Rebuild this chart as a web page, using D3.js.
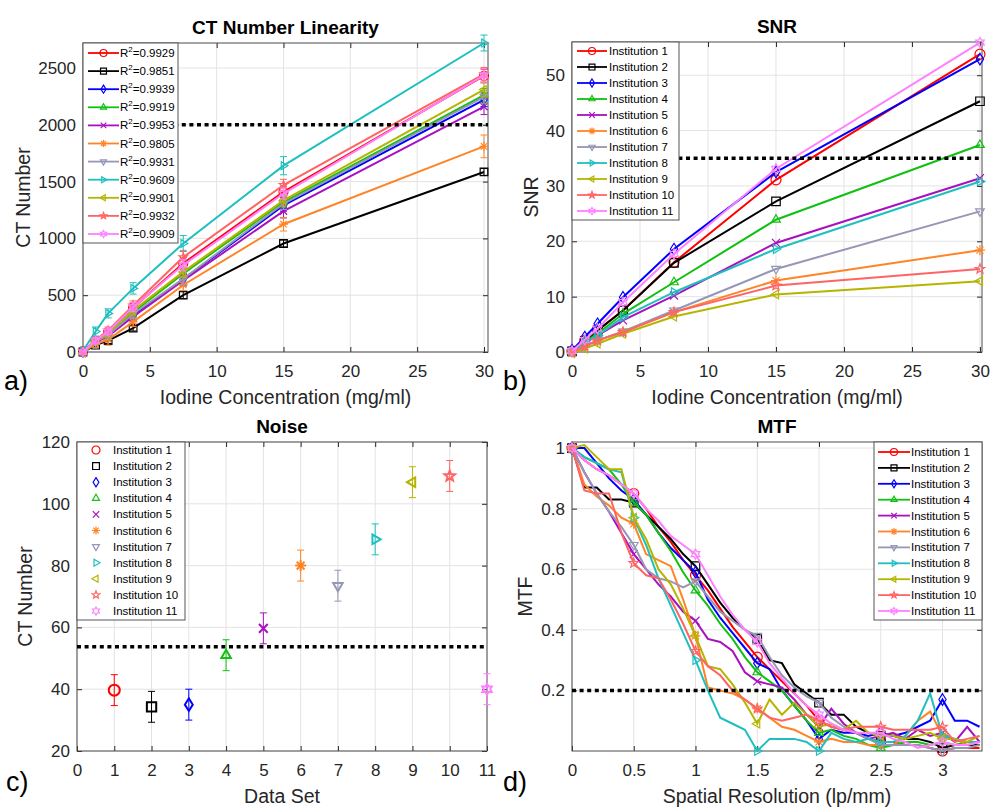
<!DOCTYPE html>
<html>
<head>
<meta charset="utf-8">
<script src="https://d3js.org/d3.v7.min.js"></script>
<style>
  body { margin: 0; background: #fff; }
  svg text { font-family: 'Liberation Sans', Arial, sans-serif; fill: #262626; }
  .tick text { font-size: 17px; }
  .title { font-size: 19px; font-weight: bold; fill: #000; }
  .label { font-size: 19.5px; }
  .leg text { font-size: 11.5px; fill: #000; }
  .letter { font-size: 27px; fill: #000; }
</style>
</head>
<body>
<script>
var institutions = ['Institution 1', 'Institution 2', 'Institution 3', 'Institution 4', 'Institution 5', 'Institution 6',
  'Institution 7', 'Institution 8', 'Institution 9', 'Institution 10', 'Institution 11'];
var colors = ['#ff0000', '#000000', '#0000ff', '#11c011', '#a810c0', '#ff8426', '#9696b6', '#1fbfbf', '#b5b500', '#ff6464', '#ff80ff'];
var symbols = ['o', 's', 'd', '^', 'x', '*', 'v', '>', '<', 'p', 'h'];
var rSquared = ['0.9929', '0.9851', '0.9939', '0.9919', '0.9953', '0.9805', '0.9931', '0.9609', '0.9901', '0.9932', '0.9909'];

// a) CT number linearity
var conc = [0, 0.94, 1.88, 3.75, 7.5, 15, 30];
var ctNumber = [
  [5, 95, 175, 390, 780, 1410, 2430],
  [0, 60, 100, 210, 500, 955, 1585],
  [0, 85, 150, 320, 640, 1290, 2220],
  [0, 90, 160, 350, 690, 1320, 2260],
  [0, 85, 140, 310, 630, 1240, 2160],
  [0, 70, 110, 265, 590, 1125, 1810],
  [0, 90, 150, 335, 645, 1305, 2245],
  [10, 180, 340, 560, 955, 1640, 2720],
  [-10, 95, 165, 365, 705, 1335, 2310],
  [5, 105, 190, 410, 835, 1470, 2445],
  [0, 100, 180, 395, 765, 1395, 2435]
];
var ctError = [
  [10, 25, 30, 40, 50, 50, 60],
  [5, 20, 25, 25, 30, 30, 30],
  [10, 20, 30, 40, 50, 50, 60],
  [10, 20, 30, 40, 50, 50, 60],
  [10, 25, 30, 40, 50, 60, 70],
  [10, 30, 50, 40, 50, 60, 100],
  [10, 20, 30, 40, 50, 50, 60],
  [15, 40, 40, 50, 70, 80, 70],
  [10, 25, 30, 40, 50, 50, 60],
  [10, 25, 30, 40, 60, 50, 60],
  [10, 25, 30, 40, 50, 50, 60]
];
var ctTarget = 2000;

// b) SNR
var snr = [
  [0.2, 2.1, 3.9, 7.5, 16.2, 31.1, 53.8],
  [0.1, 2.0, 3.9, 7.5, 16.1, 27.2, 45.3],
  [0.3, 2.7, 5.1, 9.9, 18.6, 32.5, 52.9],
  [0.1, 1.8, 3.3, 6.9, 12.6, 23.9, 37.4],
  [0.1, 1.6, 3.0, 5.7, 10.2, 19.7, 31.4],
  [0.0, 1.0, 2.1, 3.6, 7.2, 12.9, 18.4],
  [0.0, 1.0, 2.1, 3.7, 7.5, 15.0, 25.4],
  [0.1, 1.7, 3.0, 6.3, 10.8, 18.6, 30.8],
  [-0.2, 0.6, 1.5, 3.3, 6.4, 10.4, 12.8],
  [0.0, 1.0, 2.1, 3.6, 7.2, 12.0, 15.0],
  [0.2, 2.2, 4.2, 9.0, 17.7, 33.1, 55.9]
];
var snrTarget = 35;

// c) noise
var dataSet = [1, 2, 3, 4, 5, 6, 7, 8, 9, 10, 11];
var noise = [39.7, 34.3, 35.0, 51.0, 59.7, 80.0, 73.5, 88.5, 107.0, 109.0, 40.0];
var noiseError = [5, 5, 5, 5, 5, 5, 5, 5, 5, 5, 5];
var noiseTarget = 53.7;

// d) MTF
var freq = [0, 0.1, 0.2, 0.3, 0.4, 0.5, 0.6, 0.7, 0.8, 0.9, 1.0, 1.1, 1.2, 1.3, 1.4, 1.5, 1.6, 1.7, 1.8, 1.9,
  2.0, 2.1, 2.2, 2.3, 2.4, 2.5, 2.6, 2.7, 2.8, 2.9, 3.0, 3.1, 3.2, 3.3];
var mtf = [
  [1.00,0.96,0.93,0.91,0.88,0.85,0.80,0.74,0.69,0.63,0.58,0.53,0.47,0.41,0.36,0.31,0.27,0.23,0.19,0.15,0.10,0.08,0.07,0.06,0.04,0.03,0.03,0.02,0.02,0.01,0.00,0.01,0.01,0.01],
  [1.00,0.87,0.87,0.83,0.83,0.82,0.78,0.74,0.70,0.65,0.61,0.55,0.49,0.44,0.40,0.37,0.30,0.29,0.22,0.19,0.16,0.12,0.12,0.08,0.06,0.05,0.05,0.04,0.04,0.03,0.01,0.02,0.02,0.02],
  [1.00,1.00,0.95,0.90,0.86,0.83,0.78,0.72,0.67,0.63,0.59,0.50,0.44,0.39,0.34,0.29,0.27,0.20,0.15,0.10,0.04,0.07,0.06,0.06,0.05,0.06,0.05,0.06,0.08,0.10,0.17,0.10,0.10,0.08],
  [1.00,0.97,0.95,0.93,0.88,0.82,0.78,0.72,0.66,0.59,0.53,0.48,0.42,0.37,0.31,0.26,0.23,0.20,0.15,0.10,0.06,0.07,0.05,0.04,0.02,0.01,0.02,0.03,0.03,0.02,0.03,0.02,0.03,0.03],
  [1.00,0.92,0.85,0.79,0.72,0.65,0.60,0.55,0.51,0.46,0.43,0.37,0.36,0.33,0.26,0.23,0.22,0.21,0.17,0.12,0.08,0.14,0.09,0.06,0.04,0.05,0.06,0.04,0.07,0.05,0.06,0.03,0.08,0.03],
  [1.00,0.88,0.84,0.81,0.77,0.75,0.65,0.63,0.61,0.50,0.38,0.21,0.20,0.19,0.17,0.14,0.11,0.08,0.07,0.05,0.03,0.04,0.03,0.03,0.02,0.02,0.02,0.05,0.10,0.13,0.05,0.04,0.02,0.03],
  [1.00,0.92,0.85,0.79,0.74,0.68,0.60,0.57,0.56,0.54,0.56,0.51,0.46,0.43,0.40,0.38,0.31,0.25,0.21,0.18,0.16,0.11,0.08,0.06,0.04,0.02,0.02,0.02,0.02,0.01,0.00,0.01,0.01,0.02],
  [1.00,0.97,0.95,0.93,0.92,0.77,0.68,0.57,0.48,0.39,0.30,0.20,0.11,0.09,0.07,0.00,0.04,0.04,0.04,0.03,0.00,0.06,0.04,0.03,0.04,0.03,0.03,0.05,0.10,0.19,0.05,0.04,0.03,0.03],
  [1.00,1.01,0.97,0.93,0.93,0.77,0.70,0.60,0.55,0.47,0.38,0.28,0.27,0.22,0.16,0.09,0.17,0.12,0.16,0.12,0.08,0.09,0.07,0.10,0.06,0.05,0.05,0.04,0.05,0.06,0.04,0.04,0.03,0.05],
  [1.00,0.86,0.85,0.85,0.72,0.62,0.58,0.57,0.50,0.42,0.33,0.28,0.25,0.20,0.17,0.14,0.11,0.10,0.11,0.12,0.10,0.08,0.07,0.08,0.08,0.08,0.07,0.07,0.07,0.07,0.08,0.03,0.04,0.05],
  [1.00,0.96,0.93,0.91,0.88,0.85,0.80,0.76,0.71,0.68,0.65,0.58,0.51,0.45,0.40,0.36,0.29,0.24,0.19,0.15,0.12,0.09,0.07,0.06,0.06,0.06,0.04,0.03,0.01,0.02,0.03,0.02,0.02,0.03]
];
var mtfTarget = 0.2;

var svg = d3.select('body').append('svg')
  .attr('width', 990)
  .attr('height', 807);

// Matlab-like marker shapes as path strings
function symbolPath(type, r) {
  var p = d3.path(), k, a, n, ri;
  if (type === 'o') {
    p.moveTo(r, 0);
    p.arc(0, 0, r, 0, 2 * Math.PI);
  } else if (type === 's') {
    var s = r * 0.85;
    p.rect(-s, -s, 2 * s, 2 * s);
  } else if (type === 'd') {
    p.moveTo(0, -r * 1.15); p.lineTo(r * 0.72, 0); p.lineTo(0, r * 1.15); p.lineTo(-r * 0.72, 0); p.closePath();
  } else if ('^v<>'.indexOf(type) >= 0) {
    var rot = {'^': 0, 'v': Math.PI, '>': Math.PI / 2, '<': -Math.PI / 2}[type];
    for (k = 0; k < 3; k++) {
      a = rot + k * 2 * Math.PI / 3;
      if (k === 0) p.moveTo(r * Math.sin(a), -r * Math.cos(a));
      else p.lineTo(r * Math.sin(a), -r * Math.cos(a));
    }
    p.closePath();
  } else if (type === 'x') {
    var c = r * 0.8;
    p.moveTo(-c, -c); p.lineTo(c, c); p.moveTo(-c, c); p.lineTo(c, -c);
  } else if (type === '*') {
    for (k = 0; k < 4; k++) {
      a = k * Math.PI / 4;
      p.moveTo(r * Math.cos(a), r * Math.sin(a));
      p.lineTo(-r * Math.cos(a), -r * Math.sin(a));
    }
  } else {
    n = type === 'p' ? 5 : 6;
    ri = type === 'p' ? r * 0.42 : r * 0.58;
    for (k = 0; k < 2 * n; k++) {
      a = k * Math.PI / n;
      var rr = k % 2 === 0 ? r : ri;
      if (k === 0) p.moveTo(rr * Math.sin(a), -rr * Math.cos(a));
      else p.lineTo(rr * Math.sin(a), -rr * Math.cos(a));
    }
    p.closePath();
  }
  return p.toString();
}

//Builds one Matlab style axes box with grid, ticks and labels
function makeAxes(p) {
  var x = d3.scaleLinear().domain(p.xDomain).range([p.left, p.right]);
  var y = d3.scaleLinear().domain(p.yDomain).range([p.bottom, p.top]);
  var g = svg.append('g');
  var w = p.right - p.left, h = p.bottom - p.top;

  g.selectAll('.gx').data(p.xTicks).enter().append('line')
    .attr('x1', function(d) { return x(d); }).attr('x2', function(d) { return x(d); })
    .attr('y1', p.top).attr('y2', p.bottom)
    .attr('stroke', '#e3e3e3').attr('stroke-width', 1);
  g.selectAll('.gy').data(p.yTicks).enter().append('line')
    .attr('x1', p.left).attr('x2', p.right)
    .attr('y1', function(d) { return y(d); }).attr('y2', function(d) { return y(d); })
    .attr('stroke', '#e3e3e3').attr('stroke-width', 1);

  var fmt = function(d) { return String(d); };
  g.append('g').attr('transform', 'translate(0,' + p.bottom + ')').attr('color', '#262626')
    .call(d3.axisBottom(x).tickValues(p.xTicks).tickFormat(fmt).tickSizeInner(-5).tickSizeOuter(0).tickPadding(13))
    .call(function(a) { a.select('.domain').remove(); });
  g.append('g').attr('transform', 'translate(' + p.left + ',0)').attr('color', '#262626')
    .call(d3.axisLeft(y).tickValues(p.yTicks).tickFormat(fmt).tickSizeInner(-5).tickSizeOuter(0).tickPadding(7))
    .call(function(a) { a.select('.domain').remove(); });
  g.append('g').attr('transform', 'translate(0,' + p.top + ')').attr('color', '#262626')
    .call(d3.axisTop(x).tickValues(p.xTicks).tickFormat('').tickSizeInner(-5).tickSizeOuter(0))
    .call(function(a) { a.select('.domain').remove(); });
  g.append('g').attr('transform', 'translate(' + p.right + ',0)').attr('color', '#262626')
    .call(d3.axisRight(y).tickValues(p.yTicks).tickFormat('').tickSizeInner(-5).tickSizeOuter(0))
    .call(function(a) { a.select('.domain').remove(); });

  g.append('rect')
    .attr('x', p.left).attr('y', p.top).attr('width', w).attr('height', h)
    .attr('fill', 'none').attr('stroke', '#4d4d4d').attr('stroke-width', 1);

  svg.append('text').attr('class', 'title')
    .attr('x', p.left + w / 2).attr('y', p.top - 9)
    .attr('text-anchor', 'middle').text(p.title);
  svg.append('text').attr('class', 'label')
    .attr('x', p.left + w / 2).attr('y', p.bottom + 52)
    .attr('text-anchor', 'middle').text(p.xLabel);
  svg.append('text').attr('class', 'label')
    .attr('transform', 'translate(' + p.yLabelX + ',' + (p.top + h / 2) + ') rotate(-90)')
    .attr('text-anchor', 'middle').text(p.yLabel);
  svg.append('text').attr('class', 'letter')
    .attr('x', p.letterX).attr('y', p.letterY).text(p.letter);

  var layer = svg.append('g');
  return {x: x, y: y, g: layer, p: p};
}

function drawTarget(ax, value) {
  ax.g.append('line')
    .attr('x1', ax.p.left).attr('x2', ax.p.right)
    .attr('y1', ax.y(value)).attr('y2', ax.y(value))
    .attr('stroke', '#000').attr('stroke-width', 3.5).attr('stroke-dasharray', '4,3.6');
}

function drawMarker(sel, i, cx, cy, r) {
  sel.append('path')
    .attr('d', symbolPath(symbols[i], r))
    .attr('transform', 'translate(' + cx + ',' + cy + ')')
    .attr('fill', 'none').attr('stroke', colors[i]).attr('stroke-width', 1.2);
}

function drawLegend(ax, o) {
  var lg = svg.append('g').attr('class', 'leg');
  lg.append('rect')
    .attr('x', o.x).attr('y', o.y).attr('width', o.w).attr('height', o.h)
    .attr('fill', '#fff').attr('stroke', '#555').attr('stroke-width', 1);
  institutions.forEach(function(name, i) {
    var yy = o.first + i * o.step;
    if (o.line) {
      lg.append('line')
        .attr('x1', o.x0).attr('x2', o.x1).attr('y1', yy).attr('y2', yy)
        .attr('stroke', colors[i]).attr('stroke-width', 1.8);
    }
    drawMarker(lg, i, (o.x0 + o.x1) / 2, yy, o.r);
    var t = lg.append('text').attr('x', o.tx).attr('y', yy + 4);
    if (o.rsq) {
      t.append('tspan').text('R');
      t.append('tspan').attr('dy', -5).style('font-size', '8px').text('2');
      t.append('tspan').attr('dy', 5).text('=' + rSquared[i]);
    } else {
      t.text(name);
    }
  });
}

//a) CT Number Linearity
var A = makeAxes({left: 83, right: 488, top: 43, bottom: 352, xDomain: [0, 30.3], yDomain: [0, 2720],
  xTicks: [0, 5, 10, 15, 20, 25, 30], yTicks: [0, 500, 1000, 1500, 2000, 2500],
  title: 'CT Number Linearity', xLabel: 'Iodine Concentration (mg/ml)', yLabel: 'CT Number', yLabelX: 30,
  letter: 'a)', letterX: 4, letterY: 390});
ctNumber.forEach(function(vals, i) {
  var s = A.g.append('g');
  s.append('path')
    .attr('d', d3.line().x(function(d, j) { return A.x(conc[j]); }).y(function(d) { return A.y(d); })(vals))
    .attr('fill', 'none').attr('stroke', colors[i]).attr('stroke-width', 2);
  vals.forEach(function(v, j) {
    var cx = A.x(conc[j]), e = ctError[i][j];
    s.append('path')
      .attr('d', 'M' + cx + ',' + A.y(v - e) + 'V' + A.y(v + e) +
        'M' + (cx - 3.5) + ',' + A.y(v - e) + 'H' + (cx + 3.5) +
        'M' + (cx - 3.5) + ',' + A.y(v + e) + 'H' + (cx + 3.5))
      .attr('stroke', colors[i]).attr('stroke-width', 1).attr('fill', 'none');
    drawMarker(s, i, cx, A.y(v), 4.5);
  });
});
drawTarget(A, ctTarget);
drawLegend(A, {x: 83, y: 43, w: 95, h: 200, first: 53, step: 18.1, x0: 88, x1: 119, tx: 120, r: 3.5, line: true, rsq: true});

//b) SNR
var B = makeAxes({left: 572, right: 982, top: 42, bottom: 352, xDomain: [0, 30.15], yDomain: [0, 56],
  xTicks: [0, 5, 10, 15, 20, 25, 30], yTicks: [0, 10, 20, 30, 40, 50],
  title: 'SNR', xLabel: 'Iodine Concentration (mg/ml)', yLabel: 'SNR', yLabelX: 538,
  letter: 'b)', letterX: 503, letterY: 390});
snr.forEach(function(vals, i) {
  var s = B.g.append('g');
  s.append('path')
    .attr('d', d3.line().x(function(d, j) { return B.x(conc[j]); }).y(function(d) { return B.y(d); })(vals))
    .attr('fill', 'none').attr('stroke', colors[i]).attr('stroke-width', 2);
  vals.forEach(function(v, j) {
    drawMarker(s, i, B.x(conc[j]), B.y(v), 5);
  });
});
drawTarget(B, snrTarget);
drawLegend(B, {x: 572, y: 42, w: 107, h: 178, first: 51, step: 16, x0: 577, x1: 607, tx: 609, r: 3.5, line: true});

//c) Noise
var C = makeAxes({left: 77, right: 487, top: 442, bottom: 751, xDomain: [0, 11], yDomain: [20, 120],
  xTicks: [0, 1, 2, 3, 4, 5, 6, 7, 8, 9, 10, 11], yTicks: [20, 40, 60, 80, 100, 120],
  title: 'Noise', xLabel: 'Data Set', yLabel: 'CT Number', yLabelX: 32,
  letter: 'c)', letterX: 6, letterY: 791});
drawTarget(C, noiseTarget);
noise.forEach(function(v, i) {
  var cx = C.x(dataSet[i]), e = noiseError[i];
  C.g.append('path')
    .attr('d', 'M' + cx + ',' + C.y(v - e) + 'V' + C.y(v + e) +
      'M' + (cx - 3.5) + ',' + C.y(v - e) + 'H' + (cx + 3.5) +
      'M' + (cx - 3.5) + ',' + C.y(v + e) + 'H' + (cx + 3.5))
    .attr('stroke', colors[i]).attr('stroke-width', 1).attr('fill', 'none');
  C.g.append('path')
    .attr('d', symbolPath(symbols[i], 5.5))
    .attr('transform', 'translate(' + cx + ',' + C.y(v) + ')')
    .attr('fill', 'none').attr('stroke', colors[i]).attr('stroke-width', 2);
});
drawLegend(C, {x: 77, y: 442, w: 108, h: 178, first: 450, step: 16.1, x0: 96, x1: 96, tx: 113, r: 4, line: false});

//d) MTF
var D = makeAxes({left: 572, right: 982, top: 442, bottom: 751, xDomain: [0, 3.32], yDomain: [0, 1.02],
  xTicks: [0, 0.5, 1, 1.5, 2, 2.5, 3], yTicks: [0.2, 0.4, 0.6, 0.8, 1],
  title: 'MTF', xLabel: 'Spatial Resolution (lp/mm)', yLabel: 'MTF', yLabelX: 532,
  letter: 'd)', letterX: 503, letterY: 791});
mtf.forEach(function(vals, i) {
  var s = D.g.append('g');
  s.append('path')
    .attr('d', d3.line().x(function(d, j) { return D.x(freq[j]); }).y(function(d) { return D.y(d); })(vals))
    .attr('fill', 'none').attr('stroke', colors[i]).attr('stroke-width', 2);
  vals.forEach(function(v, j) {
    if (j % 5 === 0) drawMarker(s, i, D.x(freq[j]), D.y(v), 5);
  });
});
drawTarget(D, mtfTarget);
drawLegend(D, {x: 874, y: 442, w: 108, h: 178, first: 452, step: 15.9, x0: 878, x1: 910, tx: 911, r: 3.5, line: true});
</script>
</body>
</html>
